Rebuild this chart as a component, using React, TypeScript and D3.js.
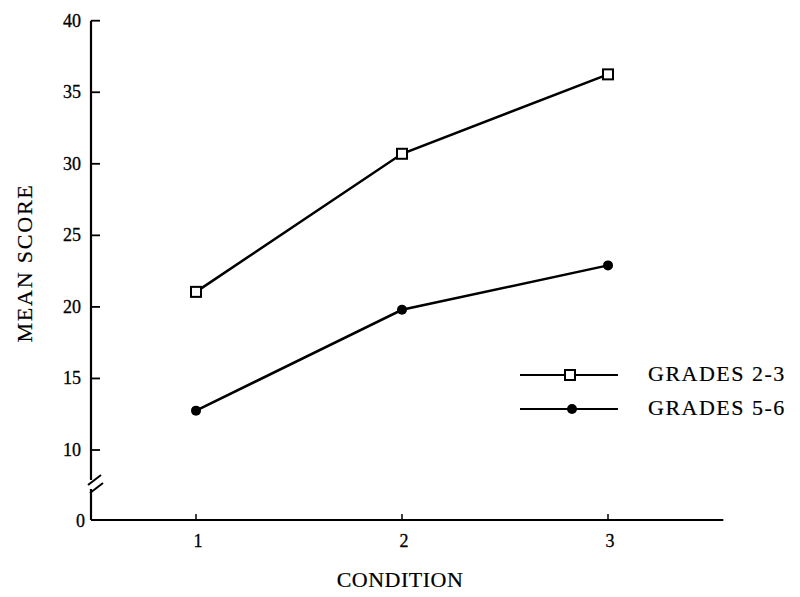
import React from "react";
import * as d3 from "d3";

const conditions = [1, 2, 3];
const grades23 = [21.05, 30.7, 36.25];
const grades56 = [12.75, 19.8, 22.9];
const yTicks = [10, 15, 20, 25, 30, 35, 40];
const seriesNames = ["GRADES 2-3", "GRADES 5-6"];

const W = 800;
const H = 597;
const FONT = "'Liberation Serif', 'DejaVu Serif', serif";

export default function App() {
  const x = d3.scaleLinear().domain([1, 3]).range([196, 608]);
  const y = d3.scaleLinear().domain([0, 10, 40]).range([521, 450, 20.7]);
  const axisX = 91;
  const xAxisY = 520;
  const line = d3
    .line<number>()
    .x((_, i) => x(conditions[i]))
    .y((d) => y(d));

  return (
    <svg width={W} height={H} style={{ position: "absolute", left: 0, top: 0, background: "#fff" }}>
      <g fontFamily={FONT} fill="#000" stroke="none">
        {/* y axis with break */}
        <line x1={axisX} y1={y(40)} x2={axisX} y2={480} stroke="#000" strokeWidth={2.2} />
        <line x1={axisX} y1={489} x2={axisX} y2={xAxisY} stroke="#000" strokeWidth={2.2} />
        <line x1={axisX - 3} y1={485} x2={axisX + 10} y2={475} stroke="#000" strokeWidth={2} />
        <line x1={axisX - 1} y1={493} x2={axisX + 12} y2={483} stroke="#000" strokeWidth={2} />
        {yTicks.map((t) => (
          <g key={t}>
            <line x1={axisX} x2={axisX + 9} y1={y(t)} y2={y(t)} stroke="#000" strokeWidth={1.8} />
            <text x={axisX - 10} y={y(t) + 6} textAnchor="end" fontSize={18} stroke="#000" strokeWidth={0.3}>
              {t}
            </text>
          </g>
        ))}
        <text x={axisX - 6} y={y(0) + 6} textAnchor="end" fontSize={18} stroke="#000" strokeWidth={0.3}>
          0
        </text>
        {/* x axis */}
        <line x1={axisX} x2={x(3.56)} y1={xAxisY} y2={xAxisY} stroke="#000" strokeWidth={2} />
        {conditions.map((c) => (
          <g key={c}>
            <line x1={x(c)} x2={x(c)} y1={xAxisY} y2={xAxisY - 6} stroke="#000" strokeWidth={1.5} />
            <text x={x(c) + 2} y={xAxisY + 27} textAnchor="middle" fontSize={18} stroke="#000" strokeWidth={0.3}>
              {c}
            </text>
          </g>
        ))}
        <text x={400} y={587} textAnchor="middle" fontSize={22} letterSpacing={0.5} stroke="#000" strokeWidth={0.2}>
          CONDITION
        </text>
        <text
          transform={`translate(32, 263) rotate(-90)`}
          textAnchor="middle"
          fontSize={22}
          letterSpacing={1.8}
          stroke="#000"
          strokeWidth={0.2}
        >
          MEAN SCORE
        </text>

        {/* series lines */}
        <path d={line(grades23) || ""} fill="none" stroke="#000" strokeWidth={2.5} />
        <path d={line(grades56) || ""} fill="none" stroke="#000" strokeWidth={2.5} />
        {grades23.map((v, i) => (
          <rect
            key={i}
            x={x(conditions[i]) - 5}
            y={y(v) - 5}
            width={10}
            height={10}
            fill="#fff"
            stroke="#000"
            strokeWidth={2}
          />
        ))}
        {grades56.map((v, i) => (
          <circle key={i} cx={x(conditions[i])} cy={y(v)} r={5} fill="#000" />
        ))}

        {/* legend */}
        <line x1={520} x2={618} y1={375} y2={375} stroke="#000" strokeWidth={2} />
        <rect x={565} y={370} width={10} height={10} fill="#fff" stroke="#000" strokeWidth={2} />
        <text x={648} y={381} fontSize={22} letterSpacing={1.5} stroke="#000" strokeWidth={0.2}>
          {seriesNames[0]}
        </text>
        <line x1={520} x2={618} y1={409} y2={409} stroke="#000" strokeWidth={2} />
        <circle cx={572} cy={409} r={5} fill="#000" />
        <text x={648} y={415} fontSize={22} letterSpacing={1.5} stroke="#000" strokeWidth={0.2}>
          {seriesNames[1]}
        </text>
      </g>
    </svg>
  );
}
